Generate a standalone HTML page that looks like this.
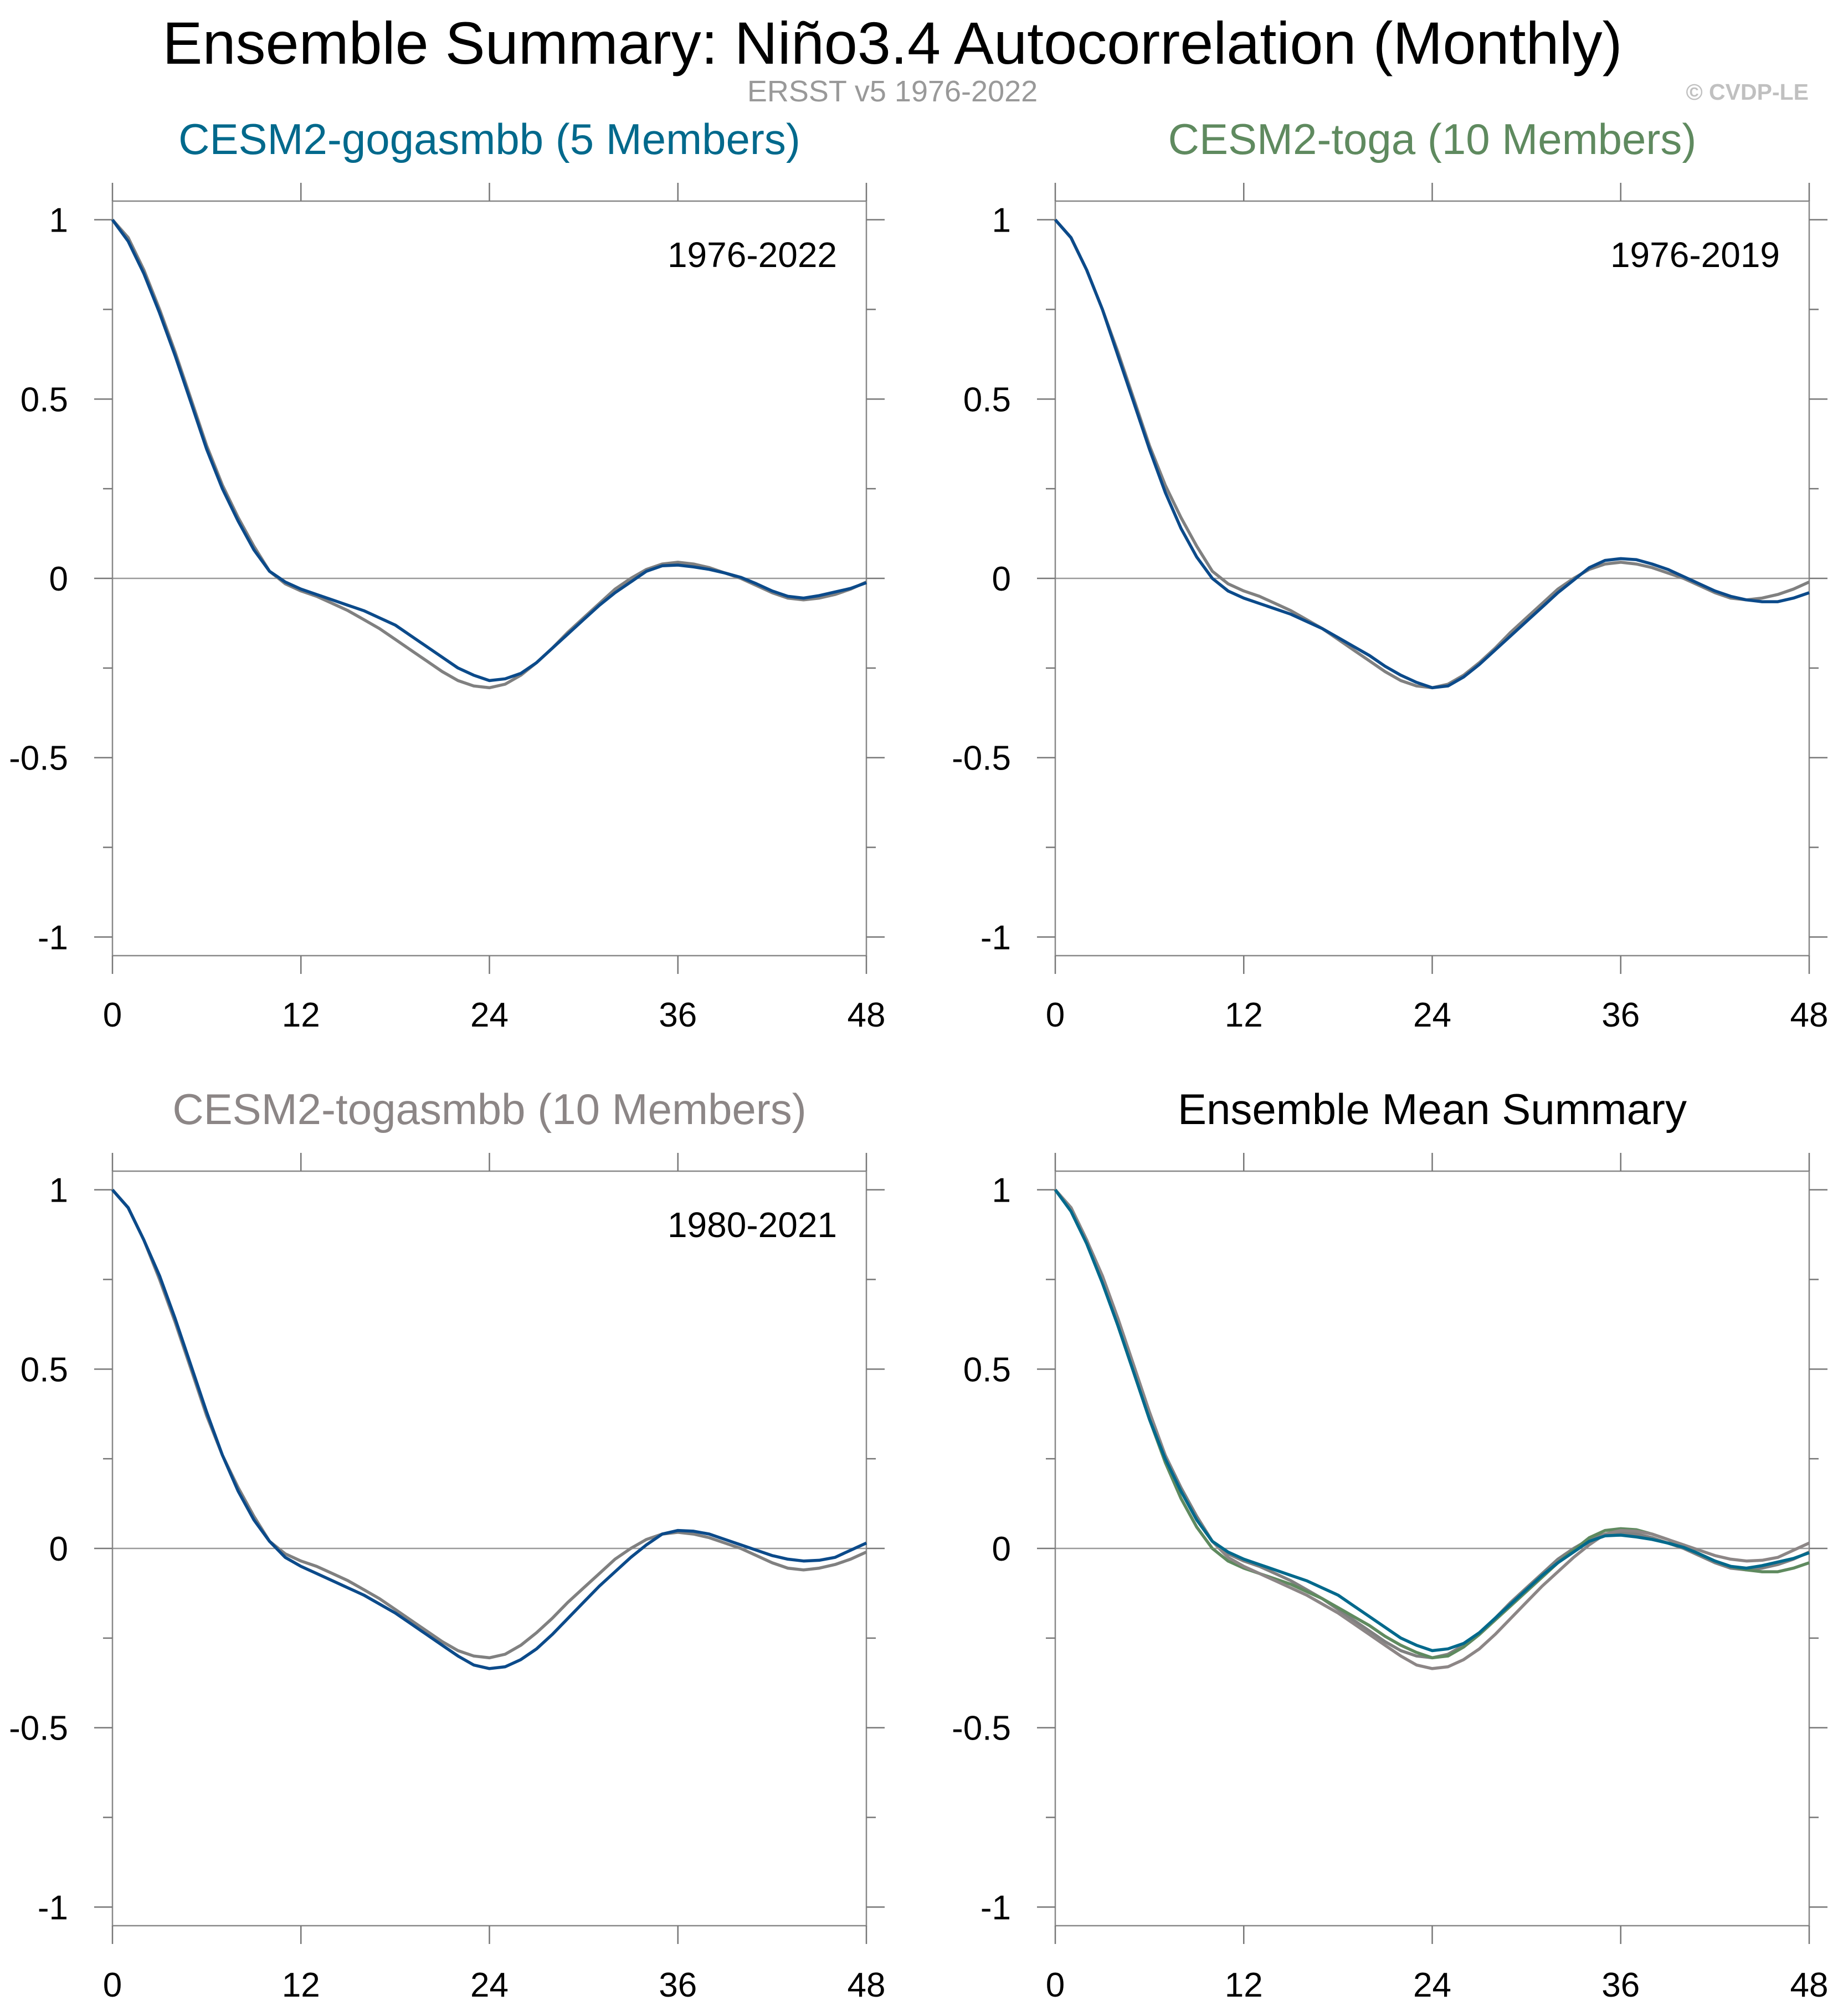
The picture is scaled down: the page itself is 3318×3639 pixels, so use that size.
<!DOCTYPE html>
<html><head><meta charset="utf-8"><style>
html,body{margin:0;padding:0;background:#fff;}
svg{display:block;font-family:"Liberation Sans",Arial,sans-serif;}
</style></head><body>
<svg id="chart" width="3318" height="3639" viewBox="0 0 3318 3639" xmlns="http://www.w3.org/2000/svg">
<text x="1611" y="115" font-size="108" text-anchor="middle" fill="#000">Ensemble Summary: Niño3.4 Autocorrelation (Monthly)</text>
<text x="1611" y="183" font-size="54" text-anchor="middle" fill="#999">ERSST v5 1976-2022</text>
<text x="3265" y="180" font-size="41" font-weight="bold" text-anchor="end" fill="#c0c0c0">© CVDP-LE</text>
<g id="panels"></g>
</svg>
<script>
const lags = Array.from({length:49},(_,i)=>i);
const xTicks = [0,12,24,36,48];
const yTicks = [1,0.5,0,-0.5,-1];
const yTickLabels = ["1","0.5","0","-0.5","-1"];
const obs = [1,0.95,0.86,0.75,0.63,0.5,0.37,0.26,0.17,0.09,0.02,-0.015,-0.035,-0.05,-0.07,-0.09,-0.115,-0.14,-0.17,-0.2,-0.23,-0.26,-0.285,-0.3,-0.305,-0.295,-0.27,-0.235,-0.195,-0.15,-0.11,-0.07,-0.03,0.0,0.025,0.04,0.045,0.04,0.03,0.015,0.0,-0.02,-0.04,-0.055,-0.06,-0.055,-0.045,-0.03,-0.01];
const gogasmbb = [1,0.94,0.85,0.74,0.62,0.49,0.36,0.25,0.16,0.08,0.02,-0.01,-0.03,-0.045,-0.06,-0.075,-0.09,-0.11,-0.13,-0.16,-0.19,-0.22,-0.25,-0.27,-0.285,-0.28,-0.265,-0.235,-0.195,-0.155,-0.115,-0.075,-0.04,-0.01,0.02,0.035,0.037,0.032,0.025,0.015,0.003,-0.015,-0.035,-0.05,-0.055,-0.048,-0.038,-0.028,-0.012];
const toga = [1,0.95,0.86,0.75,0.62,0.49,0.36,0.24,0.14,0.06,0.0,-0.035,-0.055,-0.07,-0.085,-0.1,-0.12,-0.14,-0.165,-0.19,-0.215,-0.245,-0.27,-0.29,-0.305,-0.3,-0.275,-0.24,-0.2,-0.16,-0.12,-0.08,-0.04,-0.005,0.03,0.05,0.055,0.052,0.04,0.025,0.005,-0.015,-0.035,-0.05,-0.06,-0.065,-0.065,-0.055,-0.04];
const togasmbb = [1,0.95,0.86,0.76,0.64,0.51,0.38,0.26,0.16,0.08,0.02,-0.025,-0.05,-0.07,-0.09,-0.11,-0.13,-0.155,-0.18,-0.21,-0.24,-0.27,-0.3,-0.325,-0.335,-0.33,-0.31,-0.28,-0.24,-0.195,-0.15,-0.105,-0.065,-0.025,0.01,0.04,0.05,0.048,0.04,0.025,0.01,-0.005,-0.02,-0.03,-0.035,-0.033,-0.025,-0.005,0.015];

const NS="http://www.w3.org/2000/svg";
const root=document.getElementById('panels');
const W=1361,H=1362,YMAX=1.052,YMIN=-1.052;
function mk(tag,attrs,parent){const e=document.createElementNS(NS,tag);for(const k in attrs)e.setAttribute(k,attrs[k]);(parent||root).appendChild(e);return e;}

const panels=[
 {x0:203,y0:363,title:"CESM2-gogasmbb (5 Members)",tc:"#00698c",yr:"1976-2022",name:"gogasmbb-panel",series:[{d:obs,c:"#808080",n:"obs-line"},{d:gogasmbb,c:"#0b4a8a",n:"gogasmbb-line"}]},
 {x0:1905,y0:363,title:"CESM2-toga (10 Members)",tc:"#5f8a5f",yr:"1976-2019",name:"toga-panel",series:[{d:obs,c:"#808080",n:"obs-line"},{d:toga,c:"#0b4a8a",n:"toga-line"}]},
 {x0:203,y0:2114,title:"CESM2-togasmbb (10 Members)",tc:"#8c8686",yr:"1980-2021",name:"togasmbb-panel",series:[{d:obs,c:"#808080",n:"obs-line"},{d:togasmbb,c:"#0b4a8a",n:"togasmbb-line"}]},
 {x0:1905,y0:2114,title:"Ensemble Mean Summary",tc:"#000",yr:null,name:"ensemble-mean-panel",series:[{d:obs,c:"#808080",n:"obs-line"},{d:toga,c:"#5f8a5f",n:"toga-mean-line"},{d:togasmbb,c:"#8c8686",n:"togasmbb-mean-line"},{d:gogasmbb,c:"#00698c",n:"gogasmbb-mean-line"}]}
];

panels.forEach(p=>{
 const g=mk('g',{});
 
 
 const sx=v=>p.x0+v/48*W;
 const sy=v=>p.y0+(YMAX-v)/(YMAX-YMIN)*H;
 const t=mk('text',{x:p.x0+W/2,y:p.y0-85,'font-size':78,'text-anchor':'middle',fill:p.tc},g);
 t.textContent=p.title;
 
 
 const z=mk('line',{x1:p.x0,x2:p.x0+W,y1:sy(0),y2:sy(0),stroke:'#999','stroke-width':2.5},g);
 
 
 const f=mk('rect',{x:p.x0,y:p.y0,width:W,height:H,fill:'none',stroke:'#888','stroke-width':2.5},g);
 
 
 for(let v=-1;v<=1.001;v+=0.25){
  const major=Math.abs(v*2-Math.round(v*2))<1e-6;
  const len=major?33:17;
  mk('line',{x1:p.x0-len,x2:p.x0,y1:sy(v),y2:sy(v),stroke:'#777','stroke-width':2.5},g);
  mk('line',{x1:p.x0+W,x2:p.x0+W+len,y1:sy(v),y2:sy(v),stroke:'#777','stroke-width':2.5},g);
 }
 yTicks.forEach((v,i)=>{
  const l=mk('text',{x:p.x0-80,y:sy(v)+22,'font-size':62,'text-anchor':'end',fill:'#000'},g);
  l.textContent=yTickLabels[i];
  
  
 });
 xTicks.forEach(v=>{
  mk('line',{x1:sx(v),x2:sx(v),y1:p.y0+H,y2:p.y0+H+33,stroke:'#777','stroke-width':2.5},g);
  mk('line',{x1:sx(v),x2:sx(v),y1:p.y0-33,y2:p.y0,stroke:'#777','stroke-width':2.5},g);
  const l=mk('text',{x:sx(v),y:p.y0+H+128,'font-size':62,'text-anchor':'middle',fill:'#000'},g);
  l.textContent=String(v);
  
  
 });
 if(p.yr){
  const y=mk('text',{x:p.x0+1308,y:p.y0+119,'font-size':64,'text-anchor':'end',fill:'#000'},g);
  y.textContent=p.yr;
  
  
 }
 p.series.forEach(s=>{
  const pts=lags.map((l,i)=>sx(l).toFixed(1)+','+sy(s.d[i]).toFixed(1)).join(' ');
  const pl=mk('polyline',{points:pts,fill:'none',stroke:s.c,'stroke-width':5.5,'stroke-linejoin':'round'},g);
  
  
 });
});
</script>
</body></html>
